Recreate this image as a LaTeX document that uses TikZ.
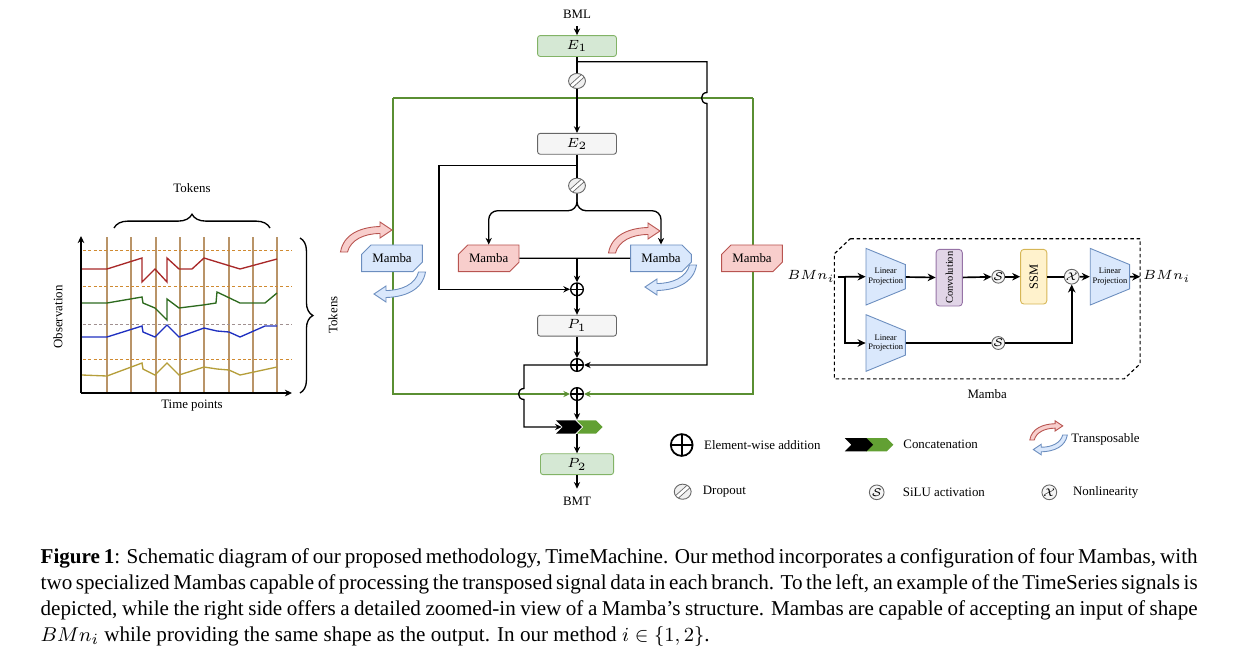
\documentclass[tikz,border=0pt]{standalone}
\usepackage{fontspec}
\setmainfont{Liberation Serif}
\usetikzlibrary{shapes.geometric, shapes.misc, shapes.symbols, arrows.meta, positioning, calc, backgrounds, decorations.pathreplacing}

\definecolor{fillgreen}{HTML}{D5E8D4}
\definecolor{edgegreen}{HTML}{82B366}
\definecolor{fillgray}{HTML}{F5F5F5}
\definecolor{edgegray}{HTML}{666666}
\definecolor{fillred}{HTML}{F8CECC}
\definecolor{edgered}{HTML}{B85450}
\definecolor{fillblue}{HTML}{DAE8FC}
\definecolor{edgeblue}{HTML}{6C8EBF}
\definecolor{fillpurple}{HTML}{E1D5E7}
\definecolor{edgepurple}{HTML}{9673A6}
\definecolor{fillyellow}{HTML}{FFF2CC}
\definecolor{edgeyellow}{HTML}{D6B656}
\definecolor{loopgreen}{HTML}{5A8F32}
\definecolor{catgreen}{HTML}{62A033}
\definecolor{sigred}{HTML}{A82828}
\definecolor{siggreen}{HTML}{2D6A1E}
\definecolor{sigblue}{HTML}{1F30C0}
\definecolor{sigolive}{HTML}{B59E3A}
\definecolor{tickcol}{HTML}{B99468}
\definecolor{dashorange}{HTML}{D08A30}
\definecolor{dashgray}{HTML}{A09090}

\begin{document}
\begin{tikzpicture}[
    x=0.45pt, y=-0.45pt,
    font=\fontsize{5.8}{7}\selectfont,
    line width=0.6pt,
    block/.style={
        rectangle, rounded corners=1.2pt, draw=edgegray, line width=0.4pt,
        fill=fillgray, minimum width=35.5pt, minimum height=9.4pt, inner sep=0pt
    },
    gblock/.style={block, draw=edgegreen, fill=fillgreen},
    mamba/.style={
        chamfered rectangle, chamfered rectangle corners={north west, south east},
        chamfered rectangle xsep=2.2pt, chamfered rectangle ysep=2.2pt,
        minimum width=27.3pt, minimum height=12pt, inner sep=0pt, line width=0.4pt
    },
    redm/.style={mamba, draw=edgered, fill=fillred},
    bluem/.style={mamba, draw=edgeblue, fill=fillblue},
    drop/.style={
        ellipse, draw=edgegray, fill=gray!12, line width=0.4pt,
        minimum width=7.6pt, minimum height=6.8pt, inner sep=0pt,
        path picture={
            \draw[white, line width=1.4pt] (path picture bounding box.south west) -- (path picture bounding box.north east);
            \draw[edgegray, line width=0.3pt] ([shift={(-0.6pt,0.6pt)}]path picture bounding box.south west) -- ([shift={(-0.6pt,0.6pt)}]path picture bounding box.north east);
            \draw[edgegray, line width=0.3pt] ([shift={(0.6pt,-0.6pt)}]path picture bounding box.south west) -- ([shift={(0.6pt,-0.6pt)}]path picture bounding box.north east);
        }
    },
    plus/.style={
        circle, draw=black, line width=0.6pt, minimum size=5.7pt, inner sep=0pt,
        path picture={
            \draw (path picture bounding box.north) -- (path picture bounding box.south)
                  (path picture bounding box.west) -- (path picture bounding box.east);
        }
    },
    act/.style={
        circle, draw=edgegray, fill=fillgray, line width=0.4pt,
        minimum size=5.3pt, inner sep=0pt, font=\fontsize{4.5}{5}\selectfont
    },
    lin/.style={
        trapezium, trapezium stretches=true, shape border rotate=270,
        trapezium left angle=72, trapezium right angle=72,
        minimum width=25.5pt, minimum height=17.7pt,
        draw=edgeblue, fill=fillblue, line width=0.4pt, inner sep=0pt,
        align=center, font=\fontsize{3.8}{4.3}\selectfont
    },
    conv/.style={
        rectangle, rounded corners=1.5pt, rotate=90, draw=edgepurple, fill=fillpurple,
        line width=0.4pt, minimum width=25.5pt, minimum height=11.8pt, inner sep=0pt,
        font=\fontsize{4.7}{5}\selectfont
    },
    ssm/.style={conv, draw=edgeyellow, fill=fillyellow, minimum width=24.6pt, font=\fontsize{5.6}{6}\selectfont},
    chevk/.style={
        signal, signal to=east, signal from=west, fill=black, draw=none,
        minimum width=11.6pt, minimum height=5.9pt, inner sep=0pt
    },
    chevg/.style={chevk, fill=catgreen},
    arr/.style={-{Stealth[length=3pt, width=2.8pt]}},
    barr/.style={-{Stealth[length=3.6pt, width=3.4pt]}, line width=0.75pt},
    gline/.style={draw=loopgreen, line width=0.5pt},
    lgtext/.style={anchor=west, inner sep=0pt},
    brace/.style={decorate, decoration={brace, amplitude=6.2pt}, line width=0.6pt},
    tarrow/.pic={
        \filldraw[pic actions] (-3.5,0) .. controls (-0.5,-18) and (17,-25) .. (36,-25.5)
            -- (36,-30) -- (48,-22) -- (36,-14) -- (36,-18.5)
            .. controls (20,-18.5) and (6.5,-12) .. (3.5,0) -- cycle;
    }
]
\useasboundingbox (0,0) rectangle (1238,660);

% -------------------------
% 1. Time series example (left)
% -------------------------
\foreach \vx in {107,131,156,180,204,229,253,277}
    \draw[tickcol, line width=0.5pt] (\vx,237) -- (\vx,393);
\foreach \hy/\hc in {250/dashorange, 286/dashorange, 324/dashgray, 359/dashorange}
    \draw[\hc, line width=0.45pt, dash pattern=on 1.4pt off 1pt] (83,\hy) -- (292,\hy);

\draw[sigred] plot coordinates {(82,269) (107,269) (142,258) (142,282) (155,269) (167,282) (167,258) (179,269) (192,269) (204,258) (240,269) (277,259)};
\draw[siggreen] plot coordinates {(82,303) (107,303) (142,297) (143,303) (155,308) (167,320) (167,299) (179,308) (203,305) (216,303) (217,292) (240,303) (265,303) (277,293)};
\draw[sigblue] plot coordinates {(82,337) (107,337) (142,326) (143,332) (155,337) (167,325) (179,337) (204,328) (217,331) (229,332) (240,337) (265,326) (277,326)};
\draw[sigolive] plot coordinates {(82,375) (107,376) (142,363) (143,369) (155,375) (167,363) (179,375) (204,367) (217,369) (229,370) (240,375) (277,367)};

\draw[-{Stealth[length=3.2pt, width=3pt]}] (81,393) -- (81,236);
\draw[-{Stealth[length=3.2pt, width=3pt]}] (81,393) -- (292,393);

\draw[brace] (114,228) -- (270,228);
\draw[brace, decoration={amplitude=5.8pt}] (300,238) -- (300,393);
\node (TokTop) at (192,188) {Tokens};
\node[rotate=90] (TokSide) at (333,315) {Tokens};
\node[rotate=90] (ObsLabel) at (58,317) {Observation};
\node (TimeLabel) at (192,406) {Time points};

% -------------------------
% 2. Main flow (centre)
% -------------------------
\node (BML) at (577,14) {BML};
\node[gblock] (E1) at (577,46) {$E_1$};
\node[drop] (Drop1) at (577,81) {};
\node[block] (E2) at (577,143.8) {$E_2$};
\node[drop] (Drop2) at (577,185.7) {};
\node[redm] (MambaA) at (488.7,258.3) {Mamba};
\node[bluem, chamfered rectangle corners={north east, south east}] (MambaB) at (661,258.3) {Mamba};
\node[plus] (Plus0) at (577,289.3) {};
\node[block] (P1) at (577,325.7) {$P_1$};
\node[plus] (Plus1) at (577,365) {};
\node[plus] (Plus2) at (577,394) {};
\node[chevg] (CatG) at (589.7,427) {};
\node[chevk] (CatK) at (569,427) {};
\node[gblock, minimum width=32.9pt] (P2) at (577,464.2) {$P_2$};
\node (BMT) at (577,501) {BMT};

% outer branch Mambas
\node[bluem] (MambaL) at (392,258.3) {Mamba};
\node[redm] (MambaR) at (752,258.3) {Mamba};

\coordinate (E1j) at (577,61.7);
\coordinate (SkipR) at (707,61.7);
\coordinate (E2j) at (577,165.7);
\coordinate (SkipL) at (439,165.7);
\coordinate (Split) at (577,210.7);
\coordinate (Mj) at (577,258.3);
\coordinate (SkipB) at (524,365);
\coordinate (GTL) at (393,98);
\coordinate (GTR) at (753,98);

\begin{scope}[on background layer]
\draw[gline] (GTL) -- (GTR);
\draw[gline, arr] (GTL) |- (Plus2);
\draw[gline, arr] (GTR) |- (Plus2);
\end{scope}

\draw[arr] (BML) -- (E1);
\draw (E1) -- (Drop1);
\draw[arr] (Drop1) -- (E2);
\draw[arr] (E1j) -- (SkipR) -- (707,92.5) .. controls (699.7,92.5) and (699.7,103.5) .. (707,103.5) -- (Plus1 -| SkipR) -- (Plus1);
\draw (E2) -- (Drop2);
\draw[arr] (E2j) -- (SkipL) |- (Plus0);
\draw[arr, rounded corners=4pt] (Drop2) -- (Split) -| (MambaA);
\draw[arr, rounded corners=4pt] (Drop2) -- (Split) -| (MambaB);
\draw (MambaA) -- (MambaB);
\draw[arr] (Mj) -- (Plus0);
\draw[arr] (Plus0) -- (P1);
\draw[arr] (P1) -- (Plus1);
\draw[arr] (Plus1) -- (SkipB) -- (524,388.5) .. controls (516.7,388.5) and (516.7,399.5) .. (524,399.5) -- (524,427) -- (CatK.west);
\draw[arr] (Plus2) -- (Plus2 |- CatK.north);
\draw[arr] (Plus2 |- CatK.south) -- (P2);
\draw[arr] (P2) -- (BMT);

% transposable marks
\pic[fill=fillred, draw=edgered, line width=0.4pt] at (344,252) {tarrow};
\pic[fill=fillblue, draw=edgeblue, line width=0.4pt, rotate=180] at (422,272) {tarrow};
\pic[fill=fillred, draw=edgered, line width=0.4pt] at (612,253) {tarrow};
\pic[fill=fillblue, draw=edgeblue, line width=0.4pt, rotate=180] at (693,265) {tarrow};

% -------------------------
% 3. Mamba structure (right)
% -------------------------
\node[minimum width=137pt, minimum height=62.5pt, inner sep=0pt] (Frame) at (987.2,308.8) {};
\draw[line width=0.5pt, dash pattern=on 1.6pt off 1.2pt]
    ([xshift=7.2pt]Frame.north west) -- (Frame.north east) -- ([yshift=6.8pt]Frame.south east)
    -- ([xshift=-7.2pt]Frame.south east) -- (Frame.south west) -- ([yshift=-6.8pt]Frame.north west) -- cycle;
\node[below=1pt of Frame] (FrameLabel) {Mamba};

\node[font=\fontsize{5.8}{6.5}\selectfont, inner sep=1pt] (In) at (811,276.7) {$BMn_i$};
\coordinate (Sp) at (845,276.7);
\node[lin] (LP1) at (885.7,276.7) {Linear\\Projection};
\node[lin] (LP2) at (885.7,343) {Linear\\Projection};
\node[conv] (Conv) at (949.2,277.7) {Convolution};
\node[act] (S1) at (998.3,276.7) {$\mathcal{S}$};
\node[ssm] (SSM) at (1033.7,276.7) {SSM};
\node[act, minimum size=6pt] (Xn) at (1071.7,276.7) {$\mathcal{X}$};
\node[act] (S2) at (998.3,343) {$\mathcal{S}$};
\node[lin] (LP3) at (1109.9,276.7) {Linear\\Projection};
\node[font=\fontsize{5.8}{6.5}\selectfont, inner sep=1pt] (Out) at (1166.7,276.7) {$BMn_i$};

\draw[line width=0.75pt] (In) -- (Sp);
\draw[barr] (Sp) -- (LP1);
\draw[barr] (Sp) |- (LP2);
\draw[barr] (LP1) -- (Conv);
\draw[barr] (Conv) -- (S1);
\draw[barr] (S1) -- (SSM);
\draw[line width=0.75pt] (SSM) -- (Xn);
\draw[barr] (Xn) -- (LP3);
\draw[barr] (LP3) -- (Out);
\draw[line width=0.75pt] (LP2) -- (S2);
\draw[barr] (S2) -| (Xn);

% -------------------------
% 4. Legend
% -------------------------
\node[plus, minimum size=9.8pt, line width=0.8pt] (LgPlus) at (681.7,445) {};
\node[lgtext, right=4.5pt of LgPlus] {Element-wise addition};
\node[chevg, minimum width=12.3pt] (LgCatG) at (879.7,444.7) {};
\node[chevk, minimum width=12.7pt] (LgCatK) at (859,444.7) {};
\node[lgtext, right=3.8pt of LgCatG] {Concatenation};
\pic[fill=fillred, draw=edgered, line width=0.4pt, scale=0.64] at (1032,440) {tarrow};
\pic[fill=fillblue, draw=edgeblue, line width=0.4pt, rotate=180, scale=0.66] at (1065,435) {tarrow};
\node[lgtext] at (1070.7,439) {Transposable};
\node[drop] (LgDrop) at (682.7,491.7) {};
\node[lgtext, right=4.8pt of LgDrop] {Dropout};
\node[act, minimum size=6.6pt, font=\fontsize{5.2}{6}\selectfont] (LgS) at (876.7,492.3) {$\mathcal{S}$};
\node[lgtext, right=8pt of LgS] {SiLU activation};
\node[act, minimum size=6.4pt, font=\fontsize{5.2}{6}\selectfont] (LgX) at (1049.3,492.3) {$\mathcal{X}$};
\node[lgtext, right=6.9pt of LgX] {Nonlinearity};

% -------------------------
% 5. Caption
% -------------------------
\node[anchor=north west, text width=520.6pt, align=justify, inner sep=0pt,
      font=\fontsize{9.5}{11.7}\selectfont] (Caption) at (40,548) {\textbf{Figure 1}: Schematic diagram of our proposed methodology, TimeMachine. Our method incorporates a configuration of four Mambas, with\linebreak two specialized Mambas capable of processing the transposed signal data in each branch. To the left, an example of the TimeSeries signals is\linebreak depicted, while the right side offers a detailed zoomed-in view of a Mamba's structure. Mambas are capable of accepting an input of shape\linebreak $BMn_i$ while providing the same shape as the output. In our method $i \in \{1,2\}$.};

\end{tikzpicture}
\end{document}
